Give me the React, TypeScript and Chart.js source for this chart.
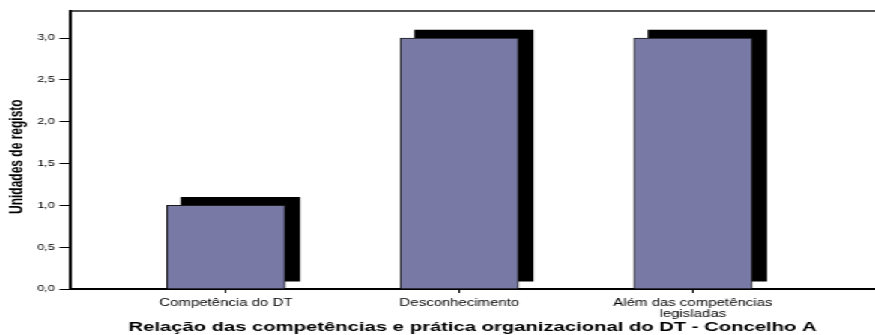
import { useEffect, useRef } from "react";
import { Chart, registerables } from "chart.js";

Chart.register(...registerables);

// Categories (index 0..2 on the x axis) and their counts
const categories: (string | string[])[] = [
  "Competência do DT",
  "Desconhecimento",
  ["Além das competências", "legisladas"],
];
const counts = [1, 3, 3];
const yTickValues = [0, 0.5, 1, 1.5, 2, 2.5, 3];
// trailing spaces nudge the rotated title slightly down along the axis
const yAxisTitle = "Unidades de registo    ";
const xAxisTitle =
  "Relação das competências e prática organizacional do DT - Concelho A";

// The chart is drawn on a narrower canvas and widened horizontally.
const DRAW_W = 584;
const DRAW_H = 335;
const OUT_W = 875;

const FONT = "'Liberation Sans', Arial, Helvetica, sans-serif";

const X_MIN = -0.668;
const X_MAX = 2.78;
const Y_MAX = 3.323;
// drop-shadow offset, in axis units
const SHADOW_DX = 0.062;
const SHADOW_DY = 0.095;
const BAR_PX = 79;

export default function App() {
  const canvasRef = useRef<HTMLCanvasElement | null>(null);

  useEffect(() => {
    const canvas = canvasRef.current;
    if (!canvas) return;

    const points = counts.map((v, i) => ({ x: i, y: v }));

    const chart = new Chart(canvas, {
      type: "bar",
      data: {
        datasets: [
          {
            label: "sombra",
            data: points,
            xAxisID: "xs",
            yAxisID: "ys",
            backgroundColor: "#000000",
            borderWidth: 0,
            barThickness: BAR_PX,
            grouped: false,
            order: 2,
          },
          {
            label: "Unidades de registo",
            data: points,
            xAxisID: "x",
            yAxisID: "y",
            backgroundColor: "rgb(121,121,166)",
            borderColor: "#1a1a1a",
            borderWidth: 1,
            barThickness: BAR_PX,
            grouped: false,
            order: 1,
          },
        ],
      },
      options: {
        responsive: false,
        animation: false,
        devicePixelRatio: 1,
        layout: { padding: { top: 11, right: 0, bottom: 0, left: 0 } },
        plugins: {
          legend: { display: false },
          tooltip: { enabled: false },
        },
        scales: {
          x: {
            type: "linear",
            position: "bottom",
            offset: false,
            min: X_MIN,
            max: X_MAX,
            afterBuildTicks: (s: any) => {
              s.ticks = categories.map((_, i) => ({ value: i }));
            },
            afterFit: (s: any) => {
              s.height = 46;
            },
            ticks: {
              autoSkip: false,
              maxRotation: 0,
              padding: 4,
              color: "#000",
              font: { family: FONT, size: 10, lineHeight: 1.15 },
              callback: (v: any) => categories[Number(v)] ?? "",
            },
            grid: {
              offset: false,
              drawOnChartArea: false,
              drawTicks: true,
              tickLength: 4,
              color: "#000",
              lineWidth: 1,
            },
            border: { display: true, color: "#000", width: 2 },
            title: {
              display: true,
              text: xAxisTitle,
              color: "#000",
              font: { family: FONT, size: 13.5, weight: "bold", lineHeight: 1.1 },
              padding: { top: 0, bottom: 0 },
            },
          },
          xs: {
            type: "linear",
            position: "top",
            offset: false,
            min: X_MIN - SHADOW_DX,
            max: X_MAX - SHADOW_DX,
            afterFit: (s: any) => {
              s.height = 0;
            },
            ticks: { display: false },
            grid: { offset: false, drawOnChartArea: false, drawTicks: false },
            border: { display: true, color: "#555", width: 2 },
          },
          y: {
            type: "linear",
            position: "left",
            min: 0,
            max: Y_MAX,
            afterBuildTicks: (s: any) => {
              s.ticks = yTickValues.map((v) => ({ value: v }));
            },
            afterFit: (s: any) => {
              s.width = 46.7;
            },
            ticks: {
              padding: 3,
              color: "#000",
              font: { family: FONT, size: 8.5 },
              callback: (v: any) => Number(v).toFixed(1).replace(".", ","),
            },
            grid: {
              drawOnChartArea: false,
              drawTicks: true,
              tickLength: 7,
              color: "#000",
              lineWidth: 1,
            },
            border: { display: true, color: "#000", width: 2 },
            title: {
              display: true,
              text: yAxisTitle,
              color: "#000",
              font: { family: FONT, size: 12, weight: "bold" },
              padding: { top: 4.5, bottom: 0 },
            },
          },
          ys: {
            type: "linear",
            display: false,
            min: -SHADOW_DY,
            max: Y_MAX - SHADOW_DY,
          },
        },
      },
    } as any);

    return () => chart.destroy();
  }, []);

  return (
    <div
      style={{
        position: "absolute",
        left: 0,
        top: 0,
        width: DRAW_W,
        height: DRAW_H,
        transform: `scaleX(${OUT_W / DRAW_W})`,
        transformOrigin: "0 0",
        background: "#fff",
      }}
    >
      <canvas
        ref={canvasRef}
        width={DRAW_W}
        height={DRAW_H}
        style={{ display: "block", width: DRAW_W, height: DRAW_H }}
      />
    </div>
  );
}
